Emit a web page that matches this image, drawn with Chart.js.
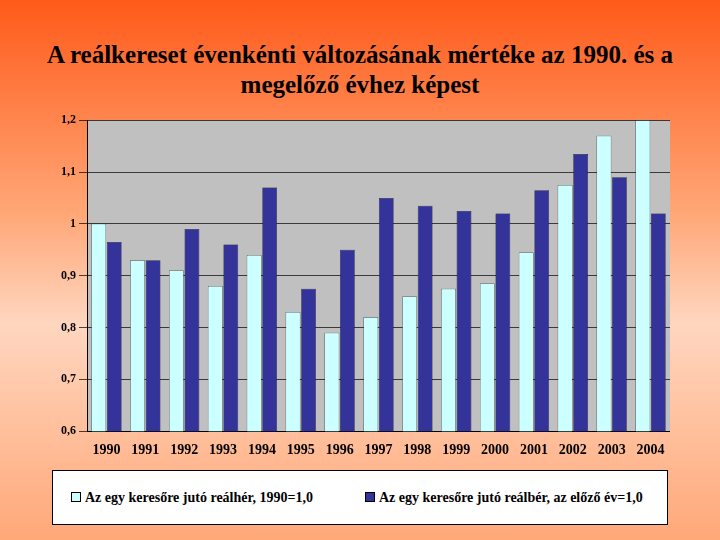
<!DOCTYPE html>
<html><head><meta charset="utf-8">
<script src="https://cdn.jsdelivr.net/npm/chart.js@4"></script>
<style>
body{margin:0;width:720px;height:540px;overflow:hidden;background:linear-gradient(#ff5a1a 0%,#ffa878 40%,#ffd6c0 60%,#ffa878 100%);font-family:"Liberation Serif",serif;position:relative}
#t{position:absolute;top:40px;left:0;width:720px;text-align:center;font-size:25px;font-weight:bold;line-height:30px}
#c{position:absolute;left:58px;top:110px;width:612px;height:352px}
#lg{position:absolute;left:52px;top:470px;width:616px;height:55px;background:#fff;border:1px solid #000;font-size:14px;font-weight:bold;box-sizing:border-box}
.it{position:absolute;top:19px}
.sw{display:inline-block;width:8px;height:8px;border:1px solid #000;margin-right:4px}
</style></head><body>
<div id="t">A reálkereset évenkénti változásának mértéke az 1990. és a<br>megelőző évhez képest</div>
<div id="c"><canvas id="cv"></canvas></div>
<div id="lg"><span class="it" style="left:18px"><span class="sw" style="background:#ccffff"></span>Az egy keresőre jutó reálhér, 1990=1,0</span><span class="it" style="left:312px"><span class="sw" style="background:#333399"></span>Az egy keresőre jutó reálbér, az előző év=1,0</span></div>
<script>
const years=["1990","1991","1992","1993","1994","1995","1996","1997","1998","1999","2000","2001","2002","2003","2004"];
const base1990=[1.00,0.93,0.91,0.88,0.94,0.83,0.79,0.82,0.86,0.875,0.885,0.945,1.075,1.17,1.2];
const prevYear=[0.965,0.93,0.99,0.96,1.07,0.875,0.95,1.05,1.035,1.025,1.02,1.065,1.135,1.09,1.02];
const bg={id:'bg',beforeDraw(c){const a=c.chartArea,x=c.ctx;x.save();x.fillStyle='#c0c0c0';x.fillRect(a.left,a.top,a.right-a.left,a.bottom-a.top);x.restore();}};
new Chart(document.getElementById('cv'),{type:'bar',
data:{labels:years,datasets:[
{data:base1990,backgroundColor:'#ccffff',borderColor:'#000',borderWidth:0.5,categoryPercentage:0.8,barPercentage:0.95},
{data:prevYear,backgroundColor:'#333399',borderColor:'#000',borderWidth:0.5,categoryPercentage:0.8,barPercentage:0.95}]},
options:{responsive:true,maintainAspectRatio:false,animation:false,
plugins:{legend:{display:false},tooltip:{enabled:false}},
scales:{x:{grid:{display:false},border:{color:'#000'},ticks:{color:'#000',font:{family:'Liberation Serif',size:14,weight:'bold'},maxRotation:0,autoSkip:false}},
y:{min:0.6,max:1.2,border:{color:'#000'},grid:{color:'#000',lineWidth:0.7},ticks:{stepSize:0.1,color:'#000',font:{family:'Liberation Serif',size:12,weight:'bold'},callback:v=>String(Math.round(v*10)/10).replace('.',',')}}}}
,plugins:[bg]});
</script></body></html>
